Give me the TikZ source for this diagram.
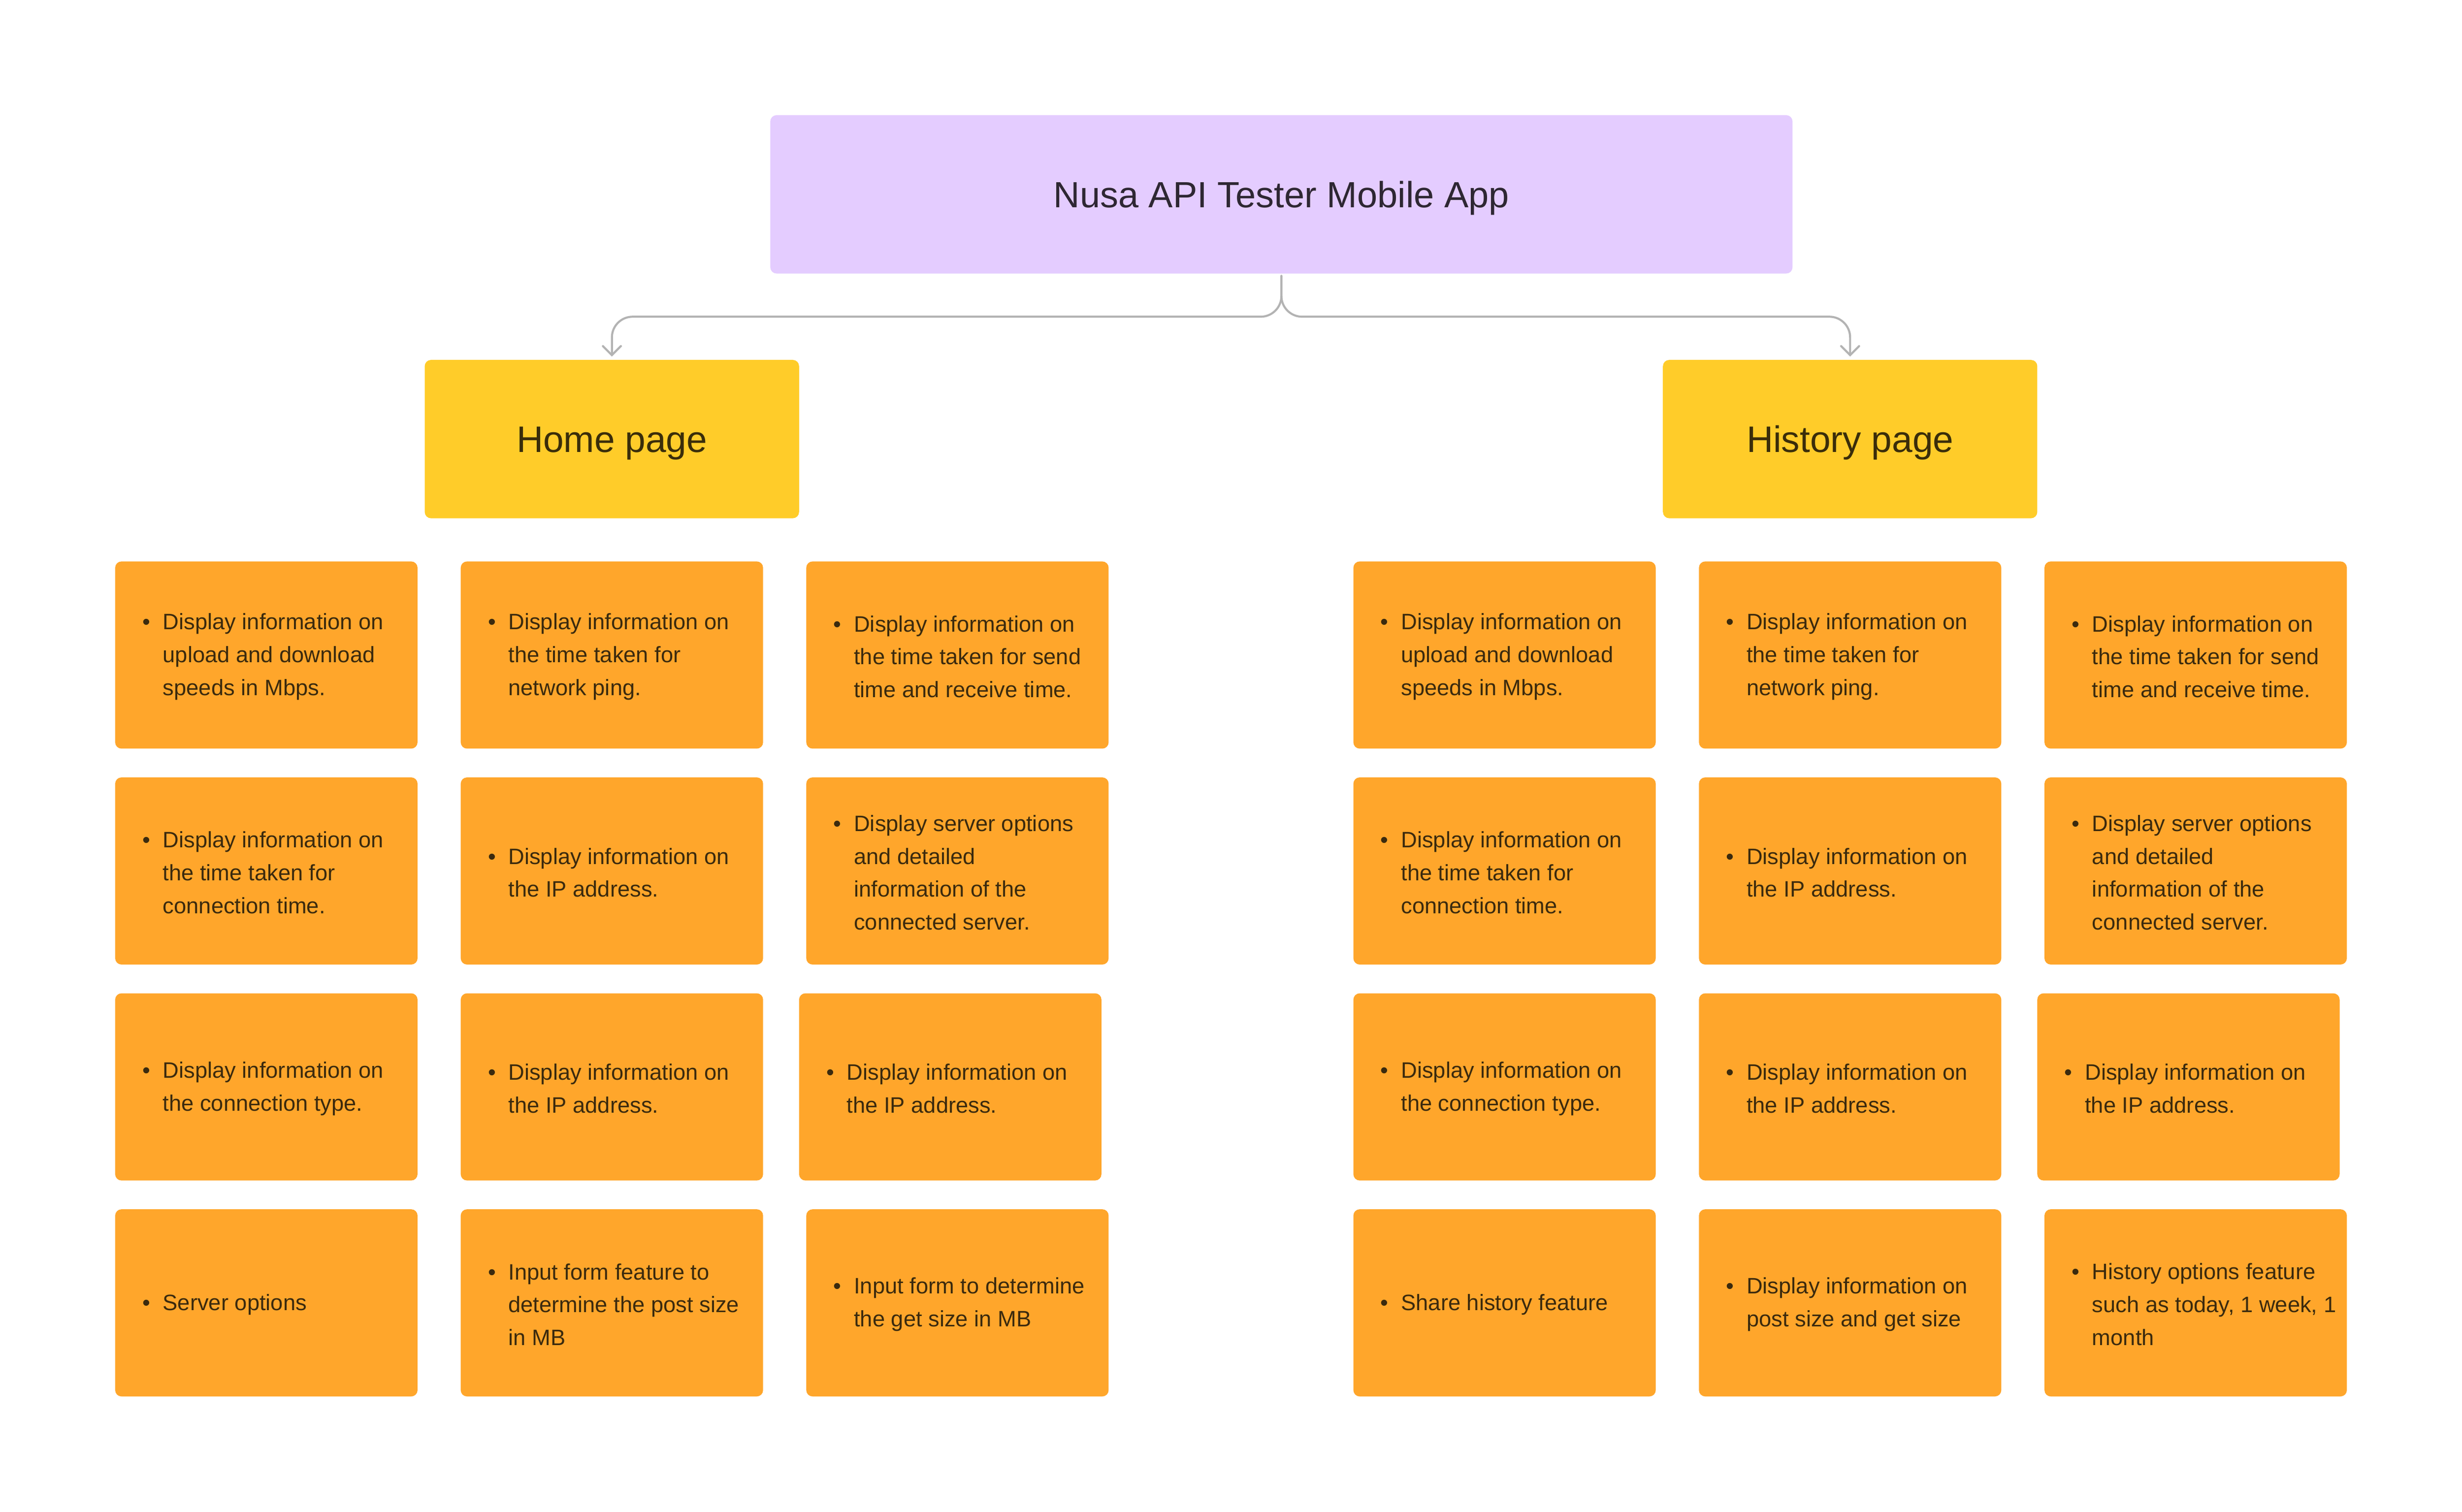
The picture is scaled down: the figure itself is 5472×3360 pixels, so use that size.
\documentclass[tikz,border=0pt]{standalone}
\usepackage{fontspec}
\setmainfont{Liberation Sans}
\usetikzlibrary{arrows.meta}
\definecolor{cardc}{HTML}{FFA62B}
\definecolor{yel}{HTML}{FFCC29}
\definecolor{pur}{HTML}{E4CCFF}
\definecolor{gry}{HTML}{B3B3B3}
\definecolor{ctxtc}{HTML}{3B2A0E}
\definecolor{ttxt}{HTML}{2E2733}
\definecolor{htxt}{HTML}{3A2D0A}
\newcommand\bul{\makebox[0pt][r]{\textbullet\hspace{14pt}}}
\newcommand\mkcard[4]{%
  \node[card] (#1) at (#2,#3) {};
  \node[ctxt] (#1t) at ([xshift=53pt,yshift=-1.8pt]#1.west) {#4};}
\begin{document}
\begin{tikzpicture}[x=0.5pt,y=-0.5pt,
  card/.style={fill=cardc, rounded corners=7pt, minimum width=336pt, minimum height=208pt, inner sep=0pt},
  ctxt/.style={anchor=west, align=left, inner sep=0pt, text=ctxtc, font=\fontsize{24.8pt}{36.6pt}\selectfont},
  hdrbox/.style={fill=yel, rounded corners=7pt, minimum width=416pt, minimum height=176pt, inner sep=0pt, text height=29.4pt, text depth=0pt, text=htxt, font=\fontsize{41pt}{48pt}\selectfont},
  titlebox/.style={fill=pur, rounded corners=7pt, minimum width=1136pt, minimum height=176pt, inner sep=0pt, text height=29pt, text depth=0pt, text=ttxt, font=\fontsize{40.5pt}{48pt}\selectfont},
  conn/.style={draw=gry, line width=2.3pt, rounded corners=23pt, line cap=round, -{Straight Barb[length=10pt,width=20pt,line cap=round]}}
]
\fill[white] (0,0) rectangle (5472,3360);
\useasboundingbox (0,0) rectangle (5472,3360);

\node[titlebox] (title) at (2848,432) {Nusa API Tester Mobile App};
\node[hdrbox] (home) at (1360,976) {Home page};
\node[hdrbox] (hist) at (4112,976) {History page};

\coordinate (jn) at (2848,704);
\draw[conn] ([yshift=-2.5pt]title.south) -- (jn) -- (jn -| home.north) -- ([yshift=3.5pt]home.north);
\draw[conn] ([yshift=-2.5pt]title.south) -- (jn) -- (jn -| hist.north) -- ([yshift=3.5pt]hist.north);

% Home page cards
\mkcard{ha1}{592}{1456}{\bul Display information on\\upload and download\\speeds in Mbps.}
\mkcard{ha2}{1360}{1456}{\bul Display information on\\the time taken for\\network ping.}
\mkcard{ha3}{2128}{1456}{\bul Display information on\\the time taken for send\\time and receive time.}
\mkcard{hb1}{592}{1936}{\bul Display information on\\the time taken for\\connection time.}
\mkcard{hb2}{1360}{1936}{\bul Display information on\\the IP address.}
\mkcard{hb3}{2128}{1936}{\bul Display server options\\and detailed\\information of the\\connected server.}
\mkcard{hc1}{592}{2416}{\bul Display information on\\the connection type.}
\mkcard{hc2}{1360}{2416}{\bul Display information on\\the IP address.}
\mkcard{hc3}{2112}{2416}{\bul Display information on\\the IP address.}
\mkcard{hd1}{592}{2896}{\bul Server options}
\mkcard{hd2}{1360}{2896}{\bul Input form feature to\\determine the post size\\in MB}
\mkcard{hd3}{2128}{2896}{\bul Input form to determine\\the get size in MB}

% History page cards
\mkcard{ra1}{3344}{1456}{\bul Display information on\\upload and download\\speeds in Mbps.}
\mkcard{ra2}{4112}{1456}{\bul Display information on\\the time taken for\\network ping.}
\mkcard{ra3}{4880}{1456}{\bul Display information on\\the time taken for send\\time and receive time.}
\mkcard{rb1}{3344}{1936}{\bul Display information on\\the time taken for\\connection time.}
\mkcard{rb2}{4112}{1936}{\bul Display information on\\the IP address.}
\mkcard{rb3}{4880}{1936}{\bul Display server options\\and detailed\\information of the\\connected server.}
\mkcard{rc1}{3344}{2416}{\bul Display information on\\the connection type.}
\mkcard{rc2}{4112}{2416}{\bul Display information on\\the IP address.}
\mkcard{rc3}{4864}{2416}{\bul Display information on\\the IP address.}
\mkcard{rd1}{3344}{2896}{\bul Share history feature}
\mkcard{rd2}{4112}{2896}{\bul Display information on\\post size and get size}
\mkcard{rd3}{4880}{2896}{\bul History options feature\\such as today, 1 week, 1\\month}
\end{tikzpicture}
\end{document}
